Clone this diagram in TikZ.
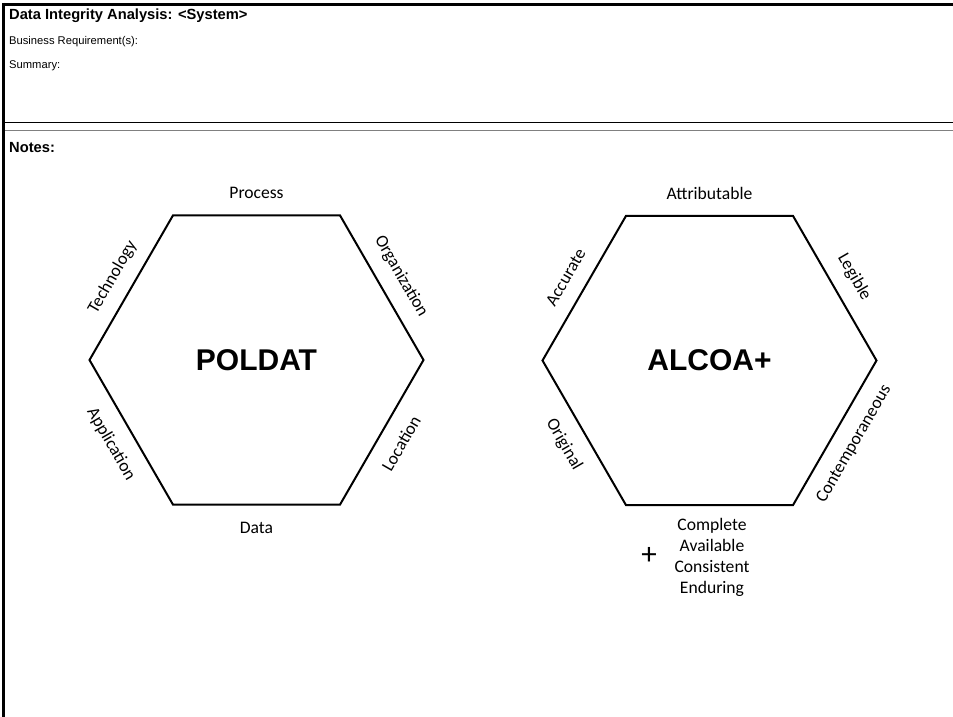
\documentclass[tikz,border=0pt]{standalone}
\usepackage{fontspec}
\setmainfont{Carlito}
\newfontfamily\arialfont{Liberation Sans}
\usetikzlibrary{calc}

\begin{document}
\begin{tikzpicture}[x=1pt,y=1pt,
  frame/.style={line width=3pt},
  hexline/.style={line width=2pt,line join=miter},
  hdr/.style={anchor=base west,inner sep=0pt,font=\arialfont\bfseries\fontsize{14.7}{17}\selectfont},
  field/.style={anchor=base west,inner sep=0pt,font=\arialfont\fontsize{11.2}{13}\selectfont},
  side/.style={inner sep=0pt,font=\fontsize{17.6}{21}\selectfont},
  big/.style={inner sep=0pt,font=\arialfont\bfseries\fontsize{30}{36}\selectfont}]
\useasboundingbox (0,0) rectangle (953,-717);
% form frame
\draw[frame] (2,-4.5) -- (953,-4.5);
\draw[frame] (3.5,-3) -- (3.5,-717);
\draw[line width=1pt] (5,-122) -- (953,-122);
\draw[line width=1.6pt,black!50] (5,-130.5) -- (953,-130.5);
\node[hdr] (title) at (9,-20) {Data Integrity Analysis: <System>};
\node[field] (breq) at (9,-45) {Business Requirement(s):};
\node[field] (summ) at (9,-68) {Summary:};
\node[hdr] (notes) at (9,-152) {Notes:};
% POLDAT
\coordinate (P) at (256.5,-360);
\draw[hexline] (P) ++(0:167) -- ++(120:167) -- ++(180:167) -- ++(240:167) -- ++(300:167) -- ++(0:167) -- cycle;
\node[big] (poldat) at (P) {POLDAT};
\node[side] (proc) at ($(P)+(90:167)$) {Process};
\node[side,rotate=-60] (org) at ($(P)+(30:167)$) {Organization};
\node[side,rotate=60] (loc) at ($(P)+(-30:167)$) {Location};
\node[side] (data) at ($(P)+(-90:168)$) {Data};
\node[side,rotate=-60] (app) at ($(P)+(-150:168)$) {Application};
\node[side,rotate=60] (tech) at ($(P)+(150:166)$) {Technology};
% ALCOA+
\coordinate (A) at (709.5,-360.5);
\draw[hexline] (A) ++(0:167) -- ++(120:167) -- ++(180:167) -- ++(240:167) -- ++(300:167) -- ++(0:167) -- cycle;
\node[big] (alcoa) at (A) {ALCOA+};
\node[side] (attr) at ($(A)+(90:167)$) {Attributable};
\node[side,rotate=-60] (leg) at ($(A)+(30:167)$) {Legible};
\node[side,rotate=60] (cont) at ($(A)+(-30:167)$) {Contemporaneous};
\node[side,rotate=-60] (orig) at ($(A)+(-150:168)$) {Original};
\node[side,rotate=60] (acc) at ($(A)+(150:166)$) {Accurate};
\node[side,align=center] (extra) at (712,-557) {Complete\\Available\\Consistent\\Enduring};
\node[side,font=\fontsize{31}{34}\selectfont] (plus) at (649,-555.5) {+};
\end{tikzpicture}
\end{document}
